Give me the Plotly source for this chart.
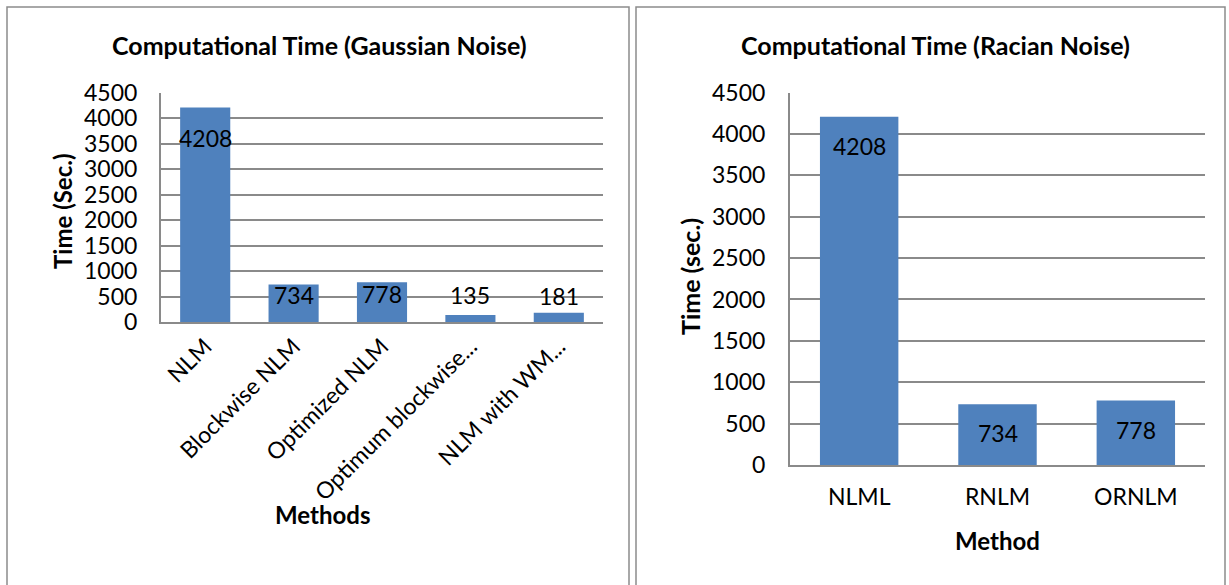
import plotly.graph_objects as go

W, H = 1229, 585

# Data
gauss_methods = ["NLM", "Blockwise NLM", "Optimized NLM", "Optimum blockwise...", "NLM with WM..."]
gauss_times = [4208, 734, 778, 135, 181]
rician_methods = ["NLML", "RNLM", "ORNLM"]
rician_times = [4208, 734, 778]
y_ticks = [0, 500, 1000, 1500, 2000, 2500, 3000, 3500, 4000, 4500]

# label offsets (pixels, label centre relative to bar top; negative = below) - styling only
gauss_label_shift = [-31, -10, -12, 20, 17]
rician_label_shift = [-29, -29, -29]

FONT = "Lato"
BAR = "#4f81bd"
GRID = "#8a8a8a"


def px_x(x):
    return x / W


def px_y(y):
    return 1 - y / H


fig = go.Figure()

fig.add_trace(go.Bar(
    x=gauss_methods, y=gauss_times, marker=dict(color=BAR, line=dict(width=0)),
    xaxis="x", yaxis="y", showlegend=False, hoverinfo="x+y",
))
fig.add_trace(go.Bar(
    x=rician_methods, y=rician_times, marker=dict(color=BAR, line=dict(width=0)),
    xaxis="x2", yaxis="y2", showlegend=False, hoverinfo="x+y",
))

axis_common = dict(showgrid=False, showline=True, linecolor=GRID, linewidth=2,
                   tickfont=dict(family=FONT, size=23, color="black"), ticks="",
                   automargin=False)
yaxis_common = dict(range=[0, 4500], tickvals=y_ticks, showgrid=True, gridcolor=GRID,
                    gridwidth=1.5, showline=True, linecolor=GRID, linewidth=2, zeroline=False,
                    tickfont=dict(family=FONT, size=23, color="black"), ticks="",
                    automargin=False)

fig.update_layout(
    width=W, height=H, margin=dict(l=0, r=0, t=0, b=0, pad=0, autoexpand=False),
    paper_bgcolor="white", plot_bgcolor="white",
    bargap=0.433,
    xaxis=dict(domain=[px_x(161), px_x(603)], anchor="y", tickangle=-45, **axis_common),
    yaxis=dict(domain=[px_y(322), px_y(92.5)], anchor="x", ticklabelstandoff=17, **yaxis_common),
    xaxis2=dict(domain=[px_x(790), px_x(1205)], anchor="y2", ticklabelstandoff=10, **axis_common),
    yaxis2=dict(domain=[px_y(465), px_y(92.5)], anchor="x2", ticklabelstandoff=18, **yaxis_common),
)

# data labels, anchored to each bar's value
for xs, ys, shifts, xr, yr in [(gauss_methods, gauss_times, gauss_label_shift, "x", "y"),
                               (rician_methods, rician_times, rician_label_shift, "x2", "y2")]:
    for c, v, s in zip(xs, ys, shifts):
        fig.add_annotation(x=c, y=v, xref=xr, yref=yr, text=str(v), showarrow=False,
                           xanchor="center", yanchor="middle", yshift=s,
                           font=dict(family=FONT, size=23, color="black"))

annots = [
    dict(text="<b>Computational Time (Gaussian Noise)</b>", x=319, y=45, size=25),
    dict(text="<b>Computational Time (Racian Noise)</b>", x=935, y=45, size=25),
    dict(text="<b>Methods</b>", x=322, y=514, size=24),
    dict(text="<b>Method</b>", x=997, y=540, size=24),
    dict(text="<b>Time (Sec.)</b>", x=62, y=211, size=24, angle=-90),
    dict(text="<b>Time (sec.)</b>", x=690, y=277, size=25, angle=-90),
]
for a in annots:
    fig.add_annotation(text=a["text"], x=px_x(a["x"]), y=px_y(a["y"]), xref="paper", yref="paper",
                       showarrow=False, xanchor="center", yanchor="middle",
                       textangle=a.get("angle", 0),
                       font=dict(family=FONT, size=a["size"], color="black"))

# chart frames
frame = dict(type="rect", xref="paper", yref="paper", line=dict(color="#8c8c8c", width=1.5),
             fillcolor="rgba(0,0,0,0)")
fig.add_shape(x0=px_x(7), x1=px_x(629), y0=px_y(620), y1=px_y(7), **frame)
fig.add_shape(x0=px_x(636), x1=px_x(1225), y0=px_y(620), y1=px_y(7), **frame)

fig.write_html("out.html", config={"displayModeBar": False},
               post_script="document.body.style.margin='0';document.body.style.overflow='hidden';")
